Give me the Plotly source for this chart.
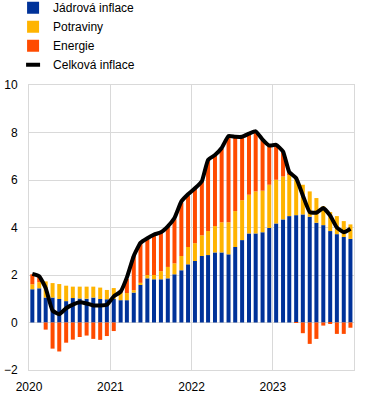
import pandas as pd
import plotly.graph_objects as go

# Months Jan 2020 - Dec 2023 (bars centred mid-month)
months = pd.date_range("2020-01-01", periods=48, freq="MS") + pd.Timedelta(days=15)
year_ticks = ["2020-01-01", "2021-01-01", "2022-01-01", "2023-01-01"]
year_labels = ["2020", "2021", "2022", "2023"]

core = [1.40, 1.44, 1.05, 1.05, 0.99, 0.90, 1.03, 1.01, 1.00, 1.05, 0.99, 0.98,
        0.99, 0.94, 0.94, 1.26, 1.59, 1.86, 1.82, 1.82, 1.86, 2.03, 2.20, 2.45,
        2.59, 2.80, 2.84, 2.95, 2.95, 2.87, 3.18, 3.47, 3.75, 3.75, 3.80, 3.98,
        4.17, 4.34, 4.48, 4.52, 4.55, 4.45, 4.20, 4.10, 3.85, 3.72, 3.60, 3.52]

food = [0.21, 0.26, 0.68, 0.61, 0.63, 0.65, 0.48, 0.50, 0.51, 0.46, 0.48, 0.39,
        0.46, 0.32, 0.30, 0.10, 0.08, 0.14, 0.18, 0.34, 0.48, 0.46, 0.60, 0.73,
        0.75, 0.87, 1.01, 1.11, 1.27, 1.35, 1.51, 1.68, 1.63, 1.77, 1.75, 1.82,
        1.84, 1.81, 1.77, 1.58, 1.25, 1.07, 1.04, 0.79, 0.80, 0.76, 0.67, 0.61]

energy = [0.42, 0.25, -0.30, -1.10, -1.22, -0.85, -0.72, -0.61, -0.55, -0.69, -0.73, -0.57,
          -0.36, 0.10, 0.60, 1.44, 1.69, 1.50, 1.64, 1.62, 1.71, 1.86, 2.25, 2.17,
          2.31, 2.28, 3.00, 3.00, 3.12, 3.61, 3.09, 2.63, 2.54, 2.52, 2.14, 1.65,
          1.44, 1.05, 0.08, -0.02, -0.45, -0.90, -0.69, -0.13, -0.05, -0.48, -0.48, -0.22]

headline = [2.05, 1.95, 1.45, 0.50, 0.35, 0.60, 0.75, 0.85, 0.80, 0.72, 0.72, 0.75,
            1.10, 1.30, 1.90, 2.80, 3.35, 3.55, 3.70, 3.80, 4.05, 4.40, 5.10, 5.40,
            5.65, 5.95, 6.85, 7.05, 7.35, 7.85, 7.82, 7.82, 7.95, 8.05, 7.70, 7.45,
            7.48, 7.20, 6.33, 6.08, 5.35, 4.65, 4.62, 4.82, 4.50, 4.00, 3.80, 3.95]

names = ["Jádrová inflace", "Potraviny", "Energie", "Celková inflace"]
colors = ["#003299", "#FFB400", "#FF4B00", "#000000"]

day_ms = 86400000
fig = go.Figure()
for vals, name, col in zip([core, food, energy], names[:3], colors[:3]):
    fig.add_trace(go.Bar(x=months, y=vals, name=name, marker_color=col,
                         marker_line_width=0, width=18 * day_ms))

fig.add_trace(go.Scatter(x=months, y=headline, mode="lines", name=names[3],
                         line=dict(color="black", width=4, shape="spline", smoothing=0.4),
                         showlegend=False))
fig.add_trace(go.Scatter(x=[None], y=[None], mode="markers", name=names[3],
                         marker=dict(symbol="line-ew", size=10,
                                     line=dict(color="black", width=4))))

grid = "#d9d9d9"
fig.update_layout(
    width=373, height=396,
    margin=dict(l=29, r=19, t=85, b=26, autoexpand=False),
    barmode="relative",
    plot_bgcolor="white", paper_bgcolor="white",
    font=dict(family="Liberation Sans, Arial, sans-serif", size=12, color="#000000"),
    legend=dict(x=-0.049, xanchor="left", y=1.322, yanchor="top",
                bgcolor="rgba(0,0,0,0)", font=dict(size=12), tracegroupgap=0),
    showlegend=True,
)
fig.update_xaxes(range=["2020-01-01", "2024-01-01"], tickvals=year_ticks, ticktext=year_labels,
                 showgrid=True, gridcolor=grid, gridwidth=1,
                 showline=True, linecolor=grid, mirror=True,
                 ticks="outside", ticklen=6, tickcolor="rgba(0,0,0,0)", zeroline=False)
fig.update_yaxes(range=[-2, 10], dtick=2, showgrid=True, gridcolor=grid, gridwidth=1,
                 showline=True, linecolor=grid, mirror=True,
                 ticks="outside", ticklen=8, tickcolor="rgba(0,0,0,0)", zeroline=False)

fig.write_html("out.html", config={"displayModeBar": False},
               post_script="document.body.style.margin='0';")
